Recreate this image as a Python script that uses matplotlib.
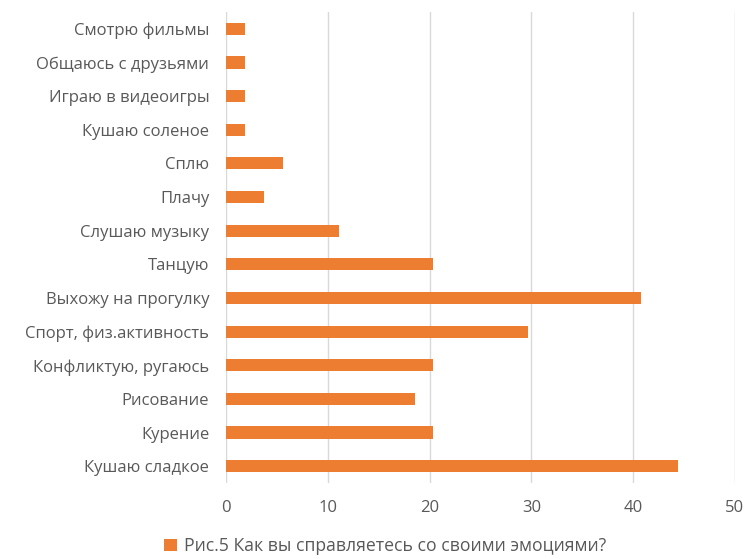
import matplotlib
matplotlib.use("Agg")
from matplotlib import pyplot as plt

plt.rcParams['font.family'] = ['Open Sans', 'DejaVu Sans']

categories = ["Кушаю сладкое", "Курение", "Рисование", "Конфликтую, ругаюсь",
              "Спорт, физ.активность", "Выхожу на прогулку", "Танцую",
              "Слушаю музыку", "Плачу", "Сплю", "Кушаю соленое",
              "Играю в видеоигры", "Общаюсь с друзьями", "Смотрю фильмы"]
values = [44.44, 20.37, 18.52, 20.37, 29.63, 40.74, 20.37,
          11.11, 3.70, 5.56, 1.85, 1.85, 1.85, 1.85]
series_name = "Рис.5 Как вы справляетесь со своими эмоциями?"
xticks = [0, 10, 20, 30, 40, 50]

orange = "#ED7D31"
grey = "#595959"

fig = plt.figure(figsize=(7.45, 5.59), dpi=100)
ax = fig.add_axes([226 / 745, 1 - 483 / 559, (735 - 226) / 745, (483 - 12) / 559])

pos = list(range(len(categories)))
ax.barh(pos, values, height=0.36, color=orange, label=series_name, zorder=3)

ax.set_xlim(0, 50)
ax.set_ylim(-0.5, len(categories) - 0.5)
ax.set_xticks(xticks)
ax.set_yticks(pos)
ax.set_yticklabels(categories)
ax.tick_params(axis='both', length=0, colors=grey, labelsize=12)
ax.tick_params(axis='x', pad=12)
ax.tick_params(axis='y', pad=12)
ax.grid(axis='x', color="#D9D9D9", linewidth=1, zorder=0)
for s in ax.spines.values():
    s.set_visible(False)

leg = fig.legend(loc='center', bbox_to_anchor=(385 / 745, 1 - 546 / 559),
                 frameon=False, fontsize=12.7, handlelength=0.7, handleheight=0.7,
                 handletextpad=0.4)
for t in leg.get_texts():
    t.set_color(grey)

fig.savefig("out.png", dpi=100)
